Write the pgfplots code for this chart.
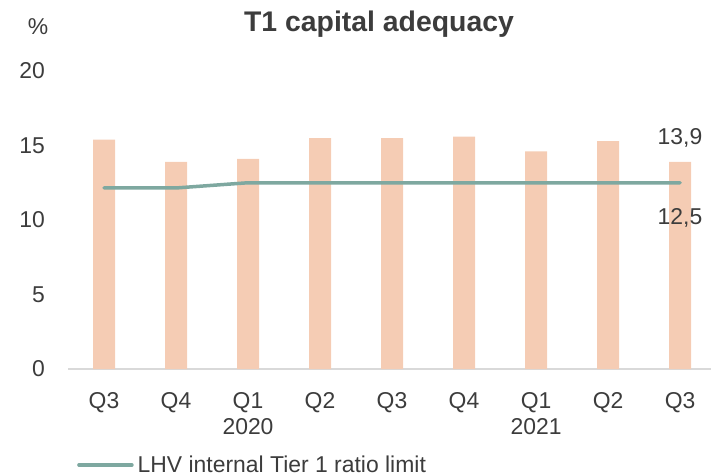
\documentclass[border=0pt]{standalone}
\usepackage{pgfplots}
\pgfplotsset{compat=1.18}
\usepackage{fontspec}
\setmainfont{Liberation Sans}
\definecolor{barc}{RGB}{245,204,180}
\definecolor{linec}{RGB}{126,168,160}
\definecolor{txt}{RGB}{60,60,60}
\definecolor{axc}{RGB}{217,217,217}
\newcommand{\tickfont}{\fontsize{23}{26}\selectfont}
\begin{document}
\begin{tikzpicture}
\path[use as bounding box] (-68bp,-107bp) rectangle (643bp,369bp);
\begin{axis}[
  at={(0,0)}, anchor=south west,
  scale only axis, width=643bp, height=298bp,
  xmin=-0.5, xmax=8.43, ymin=0, ymax=20,
  clip=false,
  /pgf/number format/assume math mode=true,
  axis x line*=bottom, axis y line*=left,
  x axis line style={axc, line width=1.5bp, -},
  y axis line style={draw=none},
  major tick length=0pt,
  xtick={0,...,8},
  xticklabels={Q3,Q4,{Q1\\2020},Q2,Q3,Q4,{Q1\\2021},Q2,Q3},
  ytick={0,5,10,15,20},
  tick label style={font=\tickfont, text=txt},
  xticklabel style={align=center, anchor=north, inner sep=0pt, yshift=-23bp},
  yticklabel style={anchor=east, inner sep=0pt, xshift=-23bp},
  legend style={at={(axis description cs:0.014,-0.322)}, anchor=west,
    draw=none, fill=none, inner sep=0pt, font=\tickfont, text=txt,
    column sep=4bp, nodes={inner sep=0pt}},
  legend cell align=left,
  legend image code/.code={\draw[#1] (0bp,0bp) -- (53bp,0bp);},
]
\addplot[ybar, bar width=22bp, fill=barc, draw=none, forget plot]
  coordinates {(0,15.4)(1,13.9)(2,14.1)(3,15.5)(4,15.5)(5,15.6)(6,14.6)(7,15.3)(8,13.9)};
\addplot[linec, line width=3.5bp, line cap=round, line join=round, mark=none]
  coordinates {(0,12.15)(1,12.15)(2,12.5)(3,12.5)(4,12.5)(5,12.5)(6,12.5)(7,12.5)(8,12.5)};
\addlegendentry{LHV internal Tier 1 ratio limit}
\node[font=\tickfont, text=txt, anchor=center, yshift=24bp] at (axis cs:8,13.9) {13,9};
\node[font=\tickfont, text=txt, anchor=center, yshift=-35bp] at (axis cs:8,12.5) {12,5};
\node[font=\fontsize{28.5}{31}\selectfont\bfseries, text=txt, anchor=base] at (axis description cs:0.4837,1.131) {T1 capital adequacy};
\node[font=\tickfont, text=txt, anchor=center, xshift=-30bp, yshift=44bp] at (axis description cs:0,1) {\%};
\end{axis}
\end{tikzpicture}
\end{document}
